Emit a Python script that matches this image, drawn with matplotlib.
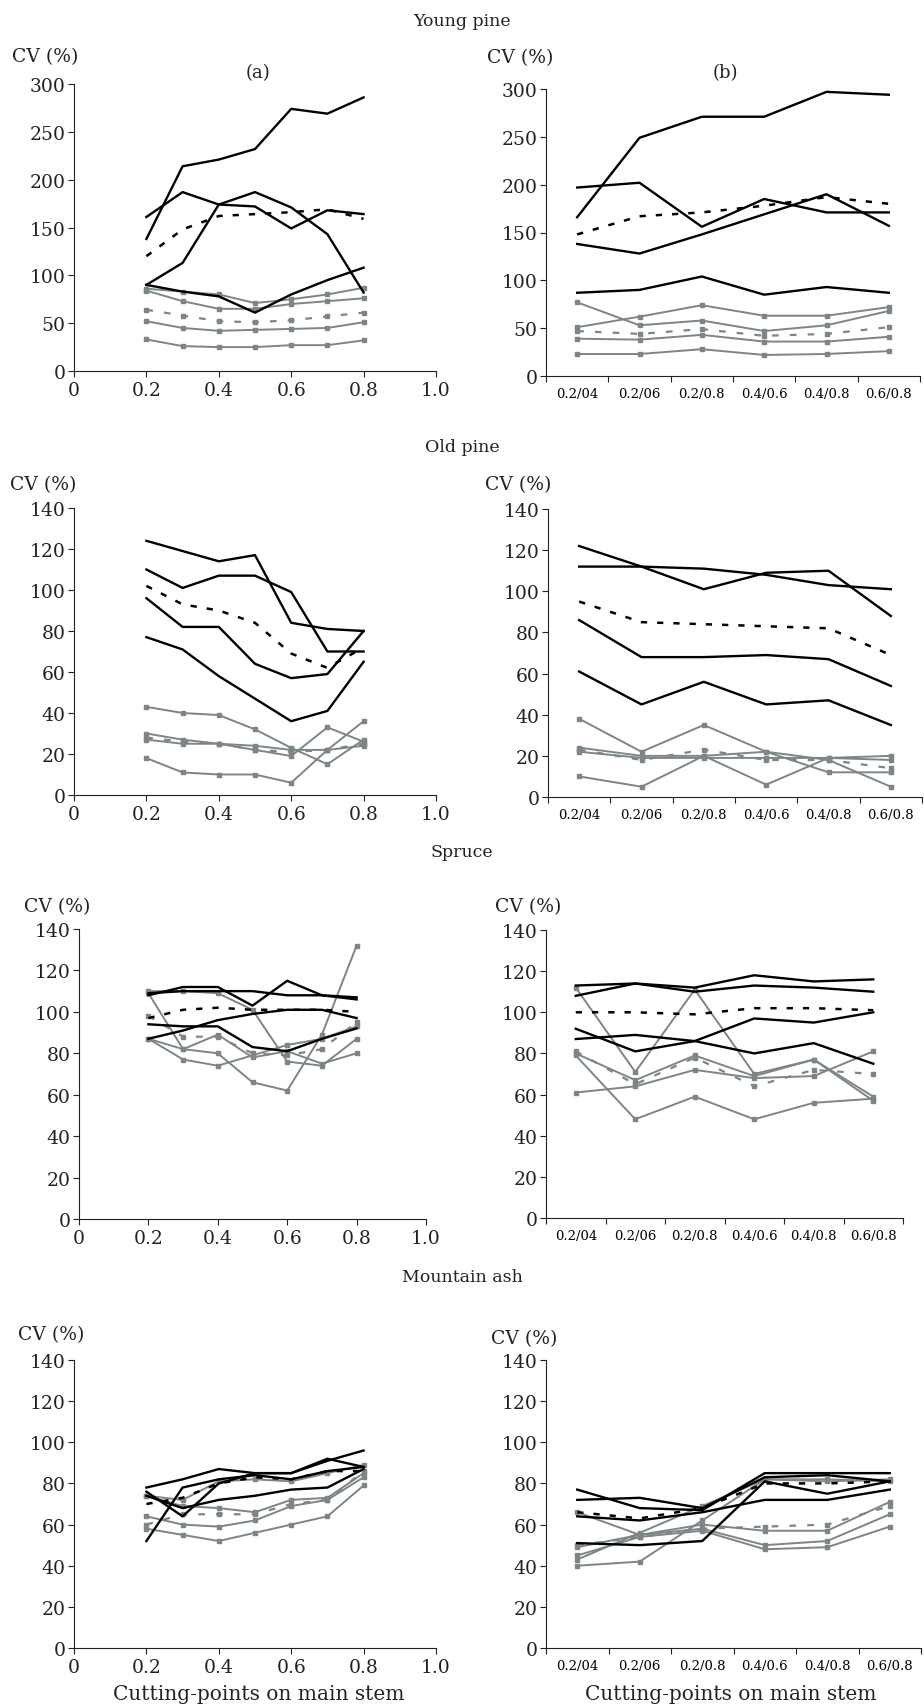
import numpy as np
import matplotlib.pyplot as plt

plt.rcParams['font.family'] = ['DejaVu Serif']

# x values
cut_a = [0.2, 0.3, 0.4, 0.5, 0.6, 0.7, 0.8]
cut_b = ['0.2/04', '0.2/06', '0.2/0.8', '0.4/0.6', '0.4/0.8', '0.6/0.8']

species = ['Young pine', 'Old pine', 'Spruce', 'Mountain ash']

# Young pine (a)
yp_a_black = [[138, 214, 221, 232, 274, 269, 286],
              [161, 187, 174, 172, 149, 168, 164],
              [90, 113, 174, 187, 171, 143, 82],
              [90, 83, 78, 61, 80, 95, 108]]
yp_a_mean = [120, 148, 162, 164, 166, 169, 159]
yp_a_grey = [[86, 83, 80, 71, 75, 80, 87],
             [84, 73, 65, 65, 70, 73, 76],
             [52, 45, 42, 43, 44, 45, 51],
             [33, 26, 25, 25, 27, 27, 32]]
yp_a_grey_mean = [64, 58, 52, 51, 53, 57, 61]

# Young pine (b)
yp_b_black = [[166, 249, 271, 271, 297, 294],
              [197, 202, 156, 185, 171, 171],
              [138, 128, 148, 169, 190, 157],
              [87, 90, 104, 85, 93, 87]]
yp_b_mean = [148, 167, 171, 178, 187, 180]
yp_b_grey = [[77, 53, 58, 47, 53, 68],
             [51, 62, 74, 63, 63, 72],
             [39, 38, 43, 36, 36, 41],
             [23, 23, 28, 22, 23, 26]]
yp_b_grey_mean = [47, 44, 49, 42, 44, 51]

# Old pine (a)
op_a_black = [[124, 119, 114, 117, 84, 81, 80],
              [110, 101, 107, 107, 99, 70, 70],
              [96, 82, 82, 64, 57, 59, 80],
              [77, 71, 58, 47, 36, 41, 65]]
op_a_mean = [102, 93, 90, 84, 69, 62, 72]
op_a_grey = [[43, 40, 39, 32, 23, 15, 27],
             [30, 27, 25, 24, 22, 22, 24],
             [27, 25, 25, 22, 19, 33, 26],
             [18, 11, 10, 10, 6, 22, 36]]
op_a_grey_mean = [28, 26, 25, 22, 21, 22, 25]

# Old pine (b)
op_b_black = [[122, 112, 101, 109, 110, 88],
              [112, 112, 111, 108, 103, 101],
              [86, 68, 68, 69, 67, 54],
              [61, 45, 56, 45, 47, 35]]
op_b_mean = [95, 85, 84, 83, 82, 69]
op_b_grey = [[38, 22, 35, 22, 18, 5],
             [10, 5, 20, 6, 19, 20],
             [24, 20, 20, 22, 12, 12],
             [22, 19, 19, 19, 19, 18]]
op_b_grey_mean = [23, 18, 23, 18, 18, 14]

# Spruce (a)
sp_a_black = [[108, 112, 112, 103, 115, 108, 107],
              [109, 110, 110, 110, 108, 108, 106],
              [94, 93, 93, 83, 81, 87, 92],
              [87, 91, 96, 99, 101, 101, 97]]
sp_a_mean = [97, 101, 102, 101, 101, 101, 100]
sp_a_grey = [[110, 110, 109, 101, 76, 74, 87],
             [109, 82, 80, 66, 62, 89, 132],
             [87, 77, 74, 79, 84, 87, 93],
             [87, 82, 89, 78, 81, 75, 80]]
sp_a_grey_mean = [98, 88, 88, 80, 79, 82, 95]

# Spruce (b)
sp_b_black = [[113, 114, 112, 118, 115, 116],
              [108, 114, 110, 113, 112, 110],
              [92, 81, 86, 97, 95, 100],
              [87, 89, 86, 80, 85, 75]]
sp_b_mean = [100, 100, 99, 102, 102, 101]
sp_b_grey = [[112, 71, 111, 70, 77, 59],
             [80, 67, 79, 69, 77, 57],
             [79, 48, 59, 48, 56, 58],
             [61, 64, 72, 68, 69, 81]]
sp_b_grey_mean = [81, 65, 78, 64, 72, 70]

# Mountain ash (a)
ma_a_black = [[78, 82, 87, 85, 85, 91, 96],
              [74, 68, 72, 74, 77, 78, 87],
              [52, 78, 82, 84, 82, 86, 88],
              [76, 64, 80, 85, 85, 92, 88]]
ma_a_mean = [70, 73, 80, 83, 82, 86, 86]
ma_a_grey = [[74, 72, 81, 82, 81, 85, 89],
             [74, 69, 68, 66, 72, 73, 85],
             [64, 60, 59, 62, 69, 72, 83],
             [58, 55, 52, 56, 60, 64, 79]]
ma_a_grey_mean = [60, 65, 65, 65, 70, 72, 86]

# Mountain ash (b)
ma_b_black = [[77, 68, 67, 85, 85, 85],
              [72, 73, 68, 83, 84, 81],
              [64, 62, 66, 72, 72, 77],
              [51, 50, 52, 81, 75, 81]]
ma_b_mean = [66, 63, 68, 80, 80, 81]
ma_b_grey = [[66, 55, 60, 57, 57, 71],
             [49, 55, 58, 50, 52, 65],
             [45, 54, 57, 48, 49, 59],
             [43, 56, 69, 82, 82, 81],
             [40, 42, 62, 82, 81, 82]]
ma_b_grey_mean = [50, 54, 58, 59, 60, 69]

panels_a = [(yp_a_black, yp_a_mean, yp_a_grey, yp_a_grey_mean),
            (op_a_black, op_a_mean, op_a_grey, op_a_grey_mean),
            (sp_a_black, sp_a_mean, sp_a_grey, sp_a_grey_mean),
            (ma_a_black, ma_a_mean, ma_a_grey, ma_a_grey_mean)]
panels_b = [(yp_b_black, yp_b_mean, yp_b_grey, yp_b_grey_mean),
            (op_b_black, op_b_mean, op_b_grey, op_b_grey_mean),
            (sp_b_black, sp_b_mean, sp_b_grey, sp_b_grey_mean),
            (ma_b_black, ma_b_mean, ma_b_grey, ma_b_grey_mean)]

W, H = 924, 1708
GREY = '#7d8586'
INK = '#222222'

# axes boxes in pixels: left, right, top, bottom
boxes_a = [(74, 436, 85, 372), (74, 436, 509, 796), (79, 426, 930, 1220), (74, 436, 1361, 1649)]
boxes_b = [(546, 920, 90, 377), (548, 922, 510, 798), (546, 903, 931, 1219), (546, 921, 1361, 1649)]
title_y = [22, 448, 853, 1278]
cv_a = [(12, 57), (10, 485), (24, 907), (18, 1335)]
cv_b = [(487, 58), (485, 485), (495, 907), (491, 1339)]

fig = plt.figure(figsize=(W / 100, H / 100), dpi=100)


def make_ax(box):
    l, r, t, b = box
    ax = fig.add_axes([l / W, 1 - b / H, (r - l) / W, (b - t) / H])
    ax.spines['top'].set_visible(False)
    ax.spines['right'].set_visible(False)
    ax.spines['left'].set_color(INK)
    ax.spines['bottom'].set_color(INK)
    ax.tick_params(direction='out', length=4, color=INK, labelcolor=INK)
    return ax


def draw(ax, x, black, mean, grey, grey_mean):
    for s in grey:
        ax.plot(x, s, color=GREY, lw=1.4, marker='s', ms=3.5, mec=GREY, clip_on=False)
    ax.plot(x, grey_mean, color=GREY, lw=1.6, ls=(0, (3, 5)), marker='s', ms=3.5, clip_on=False)
    for s in black:
        ax.plot(x, s, color='black', lw=1.7, clip_on=False)
    ax.plot(x, mean, color='black', lw=1.8, ls=(0, (2.5, 4)), clip_on=False)


for i in range(4):
    ymax = 300 if i == 0 else 140
    ystep = 50 if i == 0 else 20
    fs = 13.5

    # left panel: absolute cutting points
    ax = make_ax(boxes_a[i])
    draw(ax, cut_a, *panels_a[i])
    ax.set_xlim(0, 1.0)
    ax.set_ylim(0, ymax)
    ax.set_xticks([0, 0.2, 0.4, 0.6, 0.8, 1.0])
    ax.set_xticklabels(['0', '0.2', '0.4', '0.6', '0.8', '1.0'], fontsize=fs)
    ax.set_yticks(np.arange(0, ymax + 1, ystep))
    ax.tick_params(axis='y', labelsize=fs, pad=2)
    ax.tick_params(axis='x', pad=3)

    # right panel: pairs of cutting points
    ax2 = make_ax(boxes_b[i])
    xb = np.arange(len(cut_b)) + 0.5
    draw(ax2, xb, *panels_b[i])
    ax2.set_xlim(0, len(cut_b))
    ax2.set_ylim(0, ymax)
    ax2.set_xticks(np.arange(len(cut_b) + 1))
    ax2.set_xticklabels([])
    ax2.set_xticks(xb, minor=True)
    ax2.set_xticklabels(cut_b, minor=True, fontsize=9.5)
    ax2.tick_params(axis='x', which='minor', length=0, pad=8)
    ax2.set_yticks(np.arange(0, ymax + 1, ystep))
    ax2.tick_params(axis='y', labelsize=fs, pad=2)

    fig.text(0.5, 1 - title_y[i] / H, species[i], ha='center', va='center', fontsize=12.5, color=INK)
    fig.text(cv_a[i][0] / W, 1 - cv_a[i][1] / H, 'CV (%)', ha='left', va='center', fontsize=13.5, color=INK)
    fig.text(cv_b[i][0] / W, 1 - cv_b[i][1] / H, 'CV (%)', ha='left', va='center', fontsize=13.5, color=INK)

fig.text(258 / W, 1 - 73 / H, '(a)', ha='center', va='center', fontsize=13, color=INK)
fig.text(725 / W, 1 - 73 / H, '(b)', ha='center', va='center', fontsize=13, color=INK)
fig.text(259 / W, 1 - 1695 / H, 'Cutting-points on main stem', ha='center', va='center', fontsize=14.5, color=INK)
fig.text(731 / W, 1 - 1695 / H, 'Cutting-points on main stem', ha='center', va='center', fontsize=14.5, color=INK)

fig.savefig('out.png', dpi=100)
